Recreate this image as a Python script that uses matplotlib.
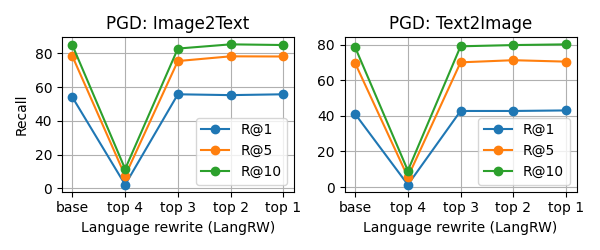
import matplotlib
matplotlib.use("Agg")
import matplotlib.pyplot as plt

# x tick labels
rewrites = ['base', 'top 4', 'top 3', 'top 2', 'top 1']

# Image2Text recall values
i2t_r1 = [54.0, 2.2, 55.8, 55.3, 55.8]
i2t_r5 = [78.3, 7.5, 75.5, 78.3, 78.2]
i2t_r10 = [84.8, 11.5, 82.9, 85.4, 85.0]

# Text2Image recall values
t2i_r1 = [41.0, 1.3, 42.7, 42.7, 43.0]
t2i_r5 = [69.5, 5.6, 70.0, 71.2, 70.4]
t2i_r10 = [78.4, 9.2, 79.0, 79.7, 80.1]


def plot_panel(ax, title, r1, r5, r10):
    ax.plot(rewrites, r1, marker='o', label='R@1')
    ax.plot(rewrites, r5, marker='o', label='R@5')
    ax.plot(rewrites, r10, marker='o', label='R@10')
    ax.set_title(title)
    ax.set_xlabel('Language rewrite (LangRW)')
    ax.grid(True)
    ax.legend(loc='lower right')


def main():
    fig, axes = plt.subplots(1, 2, figsize=(6, 2.5), dpi=100)
    plot_panel(axes[0], 'PGD: Image2Text', i2t_r1, i2t_r5, i2t_r10)
    plot_panel(axes[1], 'PGD: Text2Image', t2i_r1, t2i_r5, t2i_r10)
    axes[0].set_ylabel('Recall')
    plt.tight_layout()
    plt.savefig('out.png')


if __name__ == "__main__":
    main()
